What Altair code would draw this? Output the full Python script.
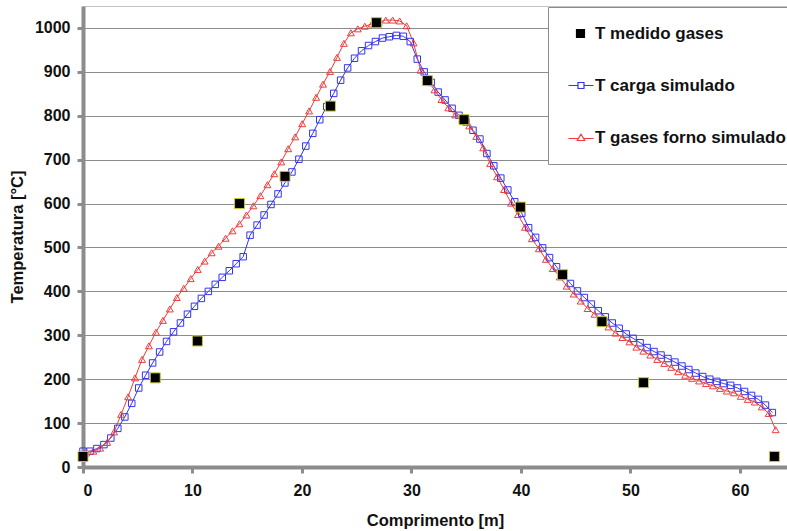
import altair as alt
import pandas as pd

# ---------------- data ----------------
x_carga = [0.0, 0.64, 1.27, 1.91, 2.54, 3.18, 3.82, 4.45, 5.09, 5.72,
           6.36, 7.0, 7.63, 8.27, 8.9, 9.54, 10.18, 10.81, 11.45, 12.08,
           12.72, 13.36, 13.99, 14.63, 15.26, 15.9, 16.54, 17.17, 17.81, 18.44,
           19.08, 19.72, 20.35, 20.99, 21.62, 22.26, 22.9, 23.53, 24.17, 24.8,
           25.44, 26.08, 26.71, 27.35, 27.98, 28.62, 29.26, 29.89, 30.53, 31.16,
           31.8, 32.44, 33.07, 33.71, 34.34, 34.98, 35.62, 36.25, 36.89, 37.52,
           38.16, 38.8, 39.43, 40.07, 40.7, 41.34, 41.98, 42.61, 43.25, 43.88,
           44.52, 45.16, 45.79, 46.43, 47.06, 47.7, 48.34, 48.97, 49.61, 50.24,
           50.88, 51.52, 52.15, 52.79, 53.42, 54.06, 54.7, 55.33, 55.97, 56.6,
           57.24, 57.88, 58.51, 59.15, 59.78, 60.42, 61.06, 61.69, 62.33, 62.96]
t_carga = [36, 36, 42, 51, 66, 88, 114, 145, 180, 209,
           237, 262, 286, 308, 328, 348, 366, 384, 400, 416,
           432, 447, 463, 479, 528, 551, 574, 598, 622, 647,
           672, 701, 731, 760, 791, 821, 851, 881, 909, 931,
           948, 960, 969, 977, 980, 983, 981, 969, 929, 900,
           876, 854, 836, 817, 801, 786, 767, 747, 714, 686,
           658, 631, 604, 578, 545, 523, 499, 477, 456, 437,
           418, 401, 386, 371, 356, 342, 328, 316, 303, 293,
           283, 272, 263, 255, 247, 239, 230, 222, 214, 206,
           200, 195, 190, 186, 180, 172, 163, 154, 141, 124]

x_gases = [0.3, 0.94, 1.57, 2.21, 2.84, 3.48, 4.12, 4.75, 5.39, 6.02,
           6.66, 7.3, 7.93, 8.57, 9.2, 9.84, 10.48, 11.11, 11.75, 12.38,
           13.02, 13.66, 14.29, 14.93, 15.56, 16.2, 16.84, 17.47, 18.11, 18.74,
           19.38, 20.02, 20.65, 21.29, 21.92, 22.56, 23.2, 23.83, 24.47, 25.1,
           25.74, 26.38, 27.01, 27.65, 28.28, 28.92, 29.56, 30.19, 30.83, 31.46,
           32.1, 32.74, 33.37, 34.01, 34.64, 35.28, 35.92, 36.55, 37.19, 37.82,
           38.46, 39.1, 39.73, 40.37, 41.0, 41.64, 42.28, 42.91, 43.55, 44.18,
           44.82, 45.46, 46.09, 46.73, 47.36, 48.0, 48.64, 49.27, 49.91, 50.54,
           51.18, 51.82, 52.45, 53.09, 53.72, 54.36, 55.0, 55.63, 56.27, 56.9,
           57.54, 58.18, 58.81, 59.45, 60.08, 60.72, 61.36, 61.99, 62.63, 63.26]
t_gases = [32, 36, 43, 56, 80, 120, 160, 203, 245, 276,
           307, 334, 360, 386, 407, 429, 450, 469, 488, 503,
           521, 538, 554, 574, 595, 618, 643, 668, 695, 725,
           752, 782, 811, 842, 872, 901, 933, 965, 989, 998,
           1004, 1009, 1013, 1018, 1018, 1016, 1005, 966, 904, 881,
           859, 837, 818, 802, 792, 777, 753, 727, 691, 661,
           632, 601, 575, 546, 520, 497, 473, 452, 433, 412,
           394, 378, 361, 348, 333, 319, 305, 295, 285, 273,
           264, 255, 245, 236, 227, 217, 209, 202, 196, 190,
           185, 179, 173, 169, 161, 154, 148, 137, 122, 85]

x_medido = [0.0, 6.6, 10.45, 14.3, 18.45, 22.6, 26.8, 31.45, 34.8, 39.95, 43.8, 47.4, 51.2, 63.15]
t_medido = [24, 203, 287, 600, 662, 822, 1012, 880, 791, 592, 438, 331, 192, 24]

series = ["T medido gases", "T carga simulado", "T gases forno simulado"]
x_ticks = [0, 10, 20, 30, 40, 50, 60]
y_ticks = [0, 100, 200, 300, 400, 500, 600, 700, 800, 900, 1000]

# ---------------- styles ----------------
FONT = "Liberation Sans"
BLUE = "#3434ee"
RED = "#ee3c3c"
GREY = "#8c8c8c"

df_carga = pd.DataFrame({"x": x_carga, "T": t_carga})
df_gases = pd.DataFrame({"x": x_gases, "T": t_gases})
df_med = pd.DataFrame({"x": x_medido, "T": t_medido})
df_leg = pd.DataFrame({"x": [None] * 3, "T": [None] * 3, "serie": series})

xenc = alt.X("x:Q",
             scale=alt.Scale(domain=[0, 64.3], nice=False, zero=False),
             axis=alt.Axis(values=x_ticks, format="d", title="Comprimento [m]", grid=False,
                           labelPadding=9, titleY=53, titleBaseline="middle"))
yenc = alt.Y("T:Q",
             scale=alt.Scale(domain=[0, 1050], nice=False, zero=False),
             axis=alt.Axis(values=y_ticks, format="d", title="Temperatura [°C]", grid=True,
                           labelPadding=7, titleX=-66, titleY=230.5,
                           titleAngle=270, titleAlign="center", titleBaseline="middle"))

line_carga = alt.Chart(df_carga).mark_line(color=BLUE, strokeWidth=1).encode(x=xenc, y=yenc)
line_gases = alt.Chart(df_gases).mark_line(color=RED, strokeWidth=1).encode(x=xenc, y=yenc)
pts_carga = alt.Chart(df_carga).mark_point(shape="square", size=42, filled=False, color=BLUE,
                                           strokeWidth=1, opacity=1).encode(x=xenc, y=yenc)
pts_gases = alt.Chart(df_gases).mark_point(shape="triangle-up", size=48, filled=False, color=RED,
                                           strokeWidth=1, opacity=1).encode(x=xenc, y=yenc)
pts_med = alt.Chart(df_med).mark_point(shape="square", size=100, filled=True, fill="#000000",
                                       stroke="#c8c83c", strokeWidth=1, opacity=1).encode(x=xenc, y=yenc)

hatch = "".join("M0.4,%.1fH2" % (v / 10.0) for v in range(-7, 8))
legend_shapes = [
    "M0.4,-0.8H2V0.8H0.4Z" + hatch,
    "M-1.2,0H0.7M1.9,0H3.8M0.7,-0.6H1.9V0.6H0.7Z",
    "M-1.2,0.2H0.79M1.81,0.2H3.8M1.3,-0.65L2.05,0.6H0.55Z",
]
leg = alt.Legend(title=None, orient="none", legendX=465, legendY=1, padding=18,
                 rowPadding=34, labelOffset=12, symbolSize=100, symbolStrokeWidth=1.2,
                 symbolOpacity=1, labelFont=FONT, labelFontSize=17, labelFontWeight="bold",
                 labelColor="#111111", labelLimit=400, strokeColor=GREY, fillColor="white")
legend_layer = alt.Chart(df_leg).mark_point(filled=False, opacity=1, strokeWidth=1.2).encode(
    x=xenc, y=yenc,
    stroke=alt.Stroke("serie:N", scale=alt.Scale(domain=series, range=["#000000", BLUE, RED]), legend=leg),
    shape=alt.Shape("serie:N", scale=alt.Scale(domain=series, range=legend_shapes), legend=leg),
)

chart = alt.layer(line_carga, line_gases, pts_carga, pts_gases, pts_med, legend_layer).properties(
    width=704, height=461,
    padding={"left": 83, "top": 6, "right": 0, "bottom": 64},
    autosize=alt.AutoSizeParams(type="none"),
    background="white",
).configure_view(stroke="#c4c4c4", strokeWidth=1).configure_axis(
    domainColor=GREY, domainWidth=4, tickColor=GREY, tickWidth=3, tickSize=6,
    labelFont=FONT, labelFontSize=16, labelFontWeight="bold", labelColor="#111111",
    titleFont=FONT, titleFontSize=16.5, titleFontWeight="bold", titleColor="#111111",
    gridColor=GREY, gridWidth=1,
)

chart.save("out.html", embed_options={"renderer": "svg", "actions": False})
